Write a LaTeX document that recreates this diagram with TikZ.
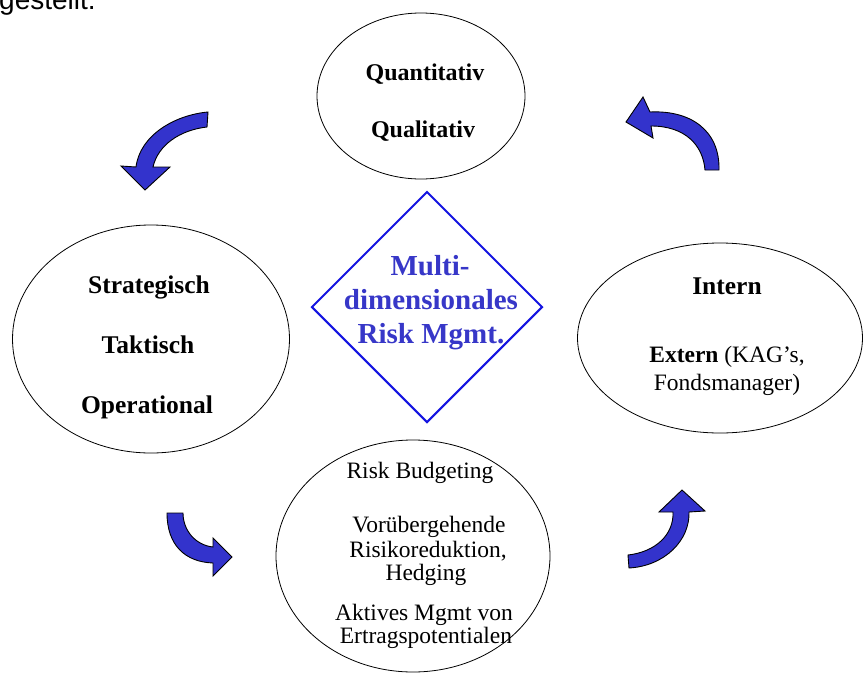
\documentclass[tikz,border=0pt]{standalone}
\usepackage{fontspec}
\setmainfont{Liberation Serif}
\newfontfamily\arialfont{Liberation Sans}
\usetikzlibrary{shapes.geometric}
\definecolor{arrowblue}{RGB}{51,51,204}
\definecolor{diablue}{RGB}{20,20,225}
\definecolor{diatext}{RGB}{55,55,200}
\tikzset{
  oval/.style={ellipse, draw=black, line width=0.8pt, inner sep=0pt},
  bl/.style={anchor=base, inner sep=0pt, font=\fontsize{24}{24}\selectfont\bfseries},
  blw/.style={anchor=base, inner sep=0pt, font=\fontsize{25.5}{25.5}\selectfont\bfseries},
  rl/.style={anchor=base, inner sep=0pt, font=\fontsize{23.5}{24}\selectfont},
  dl/.style={anchor=base, inner sep=0pt, text=diatext, font=\fontsize{29}{29}\selectfont\bfseries},
  bluearrow/.style={fill=arrowblue, draw=black, line width=0.9pt, line join=miter}
}
\begin{document}
\begin{tikzpicture}[x=1pt,y=-1pt]
\useasboundingbox (0,0) rectangle (863,675);
\fill[white] (0,0) rectangle (863,675);
\begin{scope}
\clip (0,0) rectangle (863,675);
\node[anchor=base west, inner sep=0pt, font=\arialfont\fontsize{28}{28}\selectfont] (top) at (-1,9) {gestellt.};
\end{scope}
% ellipses
\node[oval, minimum width=208, minimum height=166] (qq) at (421,96) {};
\node[oval, minimum width=277, minimum height=228] (st) at (151,339) {};
\node[oval, minimum width=285, minimum height=190] (ie) at (720,338) {};
\node[oval, minimum width=274, minimum height=232] (rb) at (413,556) {};
% diamond
\node[diamond, draw=diablue, line width=2pt, minimum width=231, minimum height=231, inner sep=0pt, aspect=1] (md) at (427,307) {};
\node[dl] (md1) at (430,275) {Multi-};
\node[dl] (md2) at (431,309) {dimensionales};
\node[dl] (md3) at (431,343) {Risk Mgmt.};
% top ellipse text
\node[bl] (q1) at (425,80) {Quantitativ};
\node[bl] (q2) at (423,137) {Qualitativ};
% left
\node[blw] (s1) at (149,293) {Strategisch};
\node[blw] (s2) at (148,353) {Taktisch};
\node[blw] (s3) at (147,413) {Operational};
% right
\node[blw] (i1) at (727,294) {Intern};
\node[rl] (i2) at (727,362) {\textbf{Extern} (KAG's,};
\node[rl] (i3) at (727,390) {Fondsmanager)};
% bottom
\node[rl] (b1) at (420,478) {Risk Budgeting};
\node[rl] (b2) at (429,532) {Vorübergehende};
\node[rl] (b3) at (428,557) {Risikoreduktion,};
\node[rl] (b4) at (426,580) {Hedging};
\node[rl] (b5) at (424,620) {Aktives Mgmt von};
\node[rl] (b6) at (426,643) {Ertragspotentialen};
% arrows
\draw[bluearrow] (208,112) .. controls (175,115) and (140,135) .. (136,167)
  -- (121,166) -- (145,190) -- (170,167) -- (153,167)
  .. controls (158,145) and (180,130) .. (207,127) -- cycle;
\draw[bluearrow] (705,170) .. controls (703,145) and (685,126) .. (651,126)
  -- (653,138) -- (626,122) -- (643,97) -- (650,112)
  .. controls (690,110) and (720,130) .. (719,170) -- cycle;
\draw[bluearrow] (167,513) .. controls (167,545) and (185,562) .. (213,563)
  -- (213,576) -- (232,557) -- (213,538) -- (213,547)
  .. controls (195,545) and (183,530) .. (183,513) -- cycle;
\draw[bluearrow] (628,555) .. controls (655,552) and (674,535) .. (673,512)
  -- (659,512) -- (682,490) -- (705,511) -- (689,512)
  .. controls (690,540) and (665,566) .. (629,568) -- cycle;
\end{tikzpicture}
\end{document}
